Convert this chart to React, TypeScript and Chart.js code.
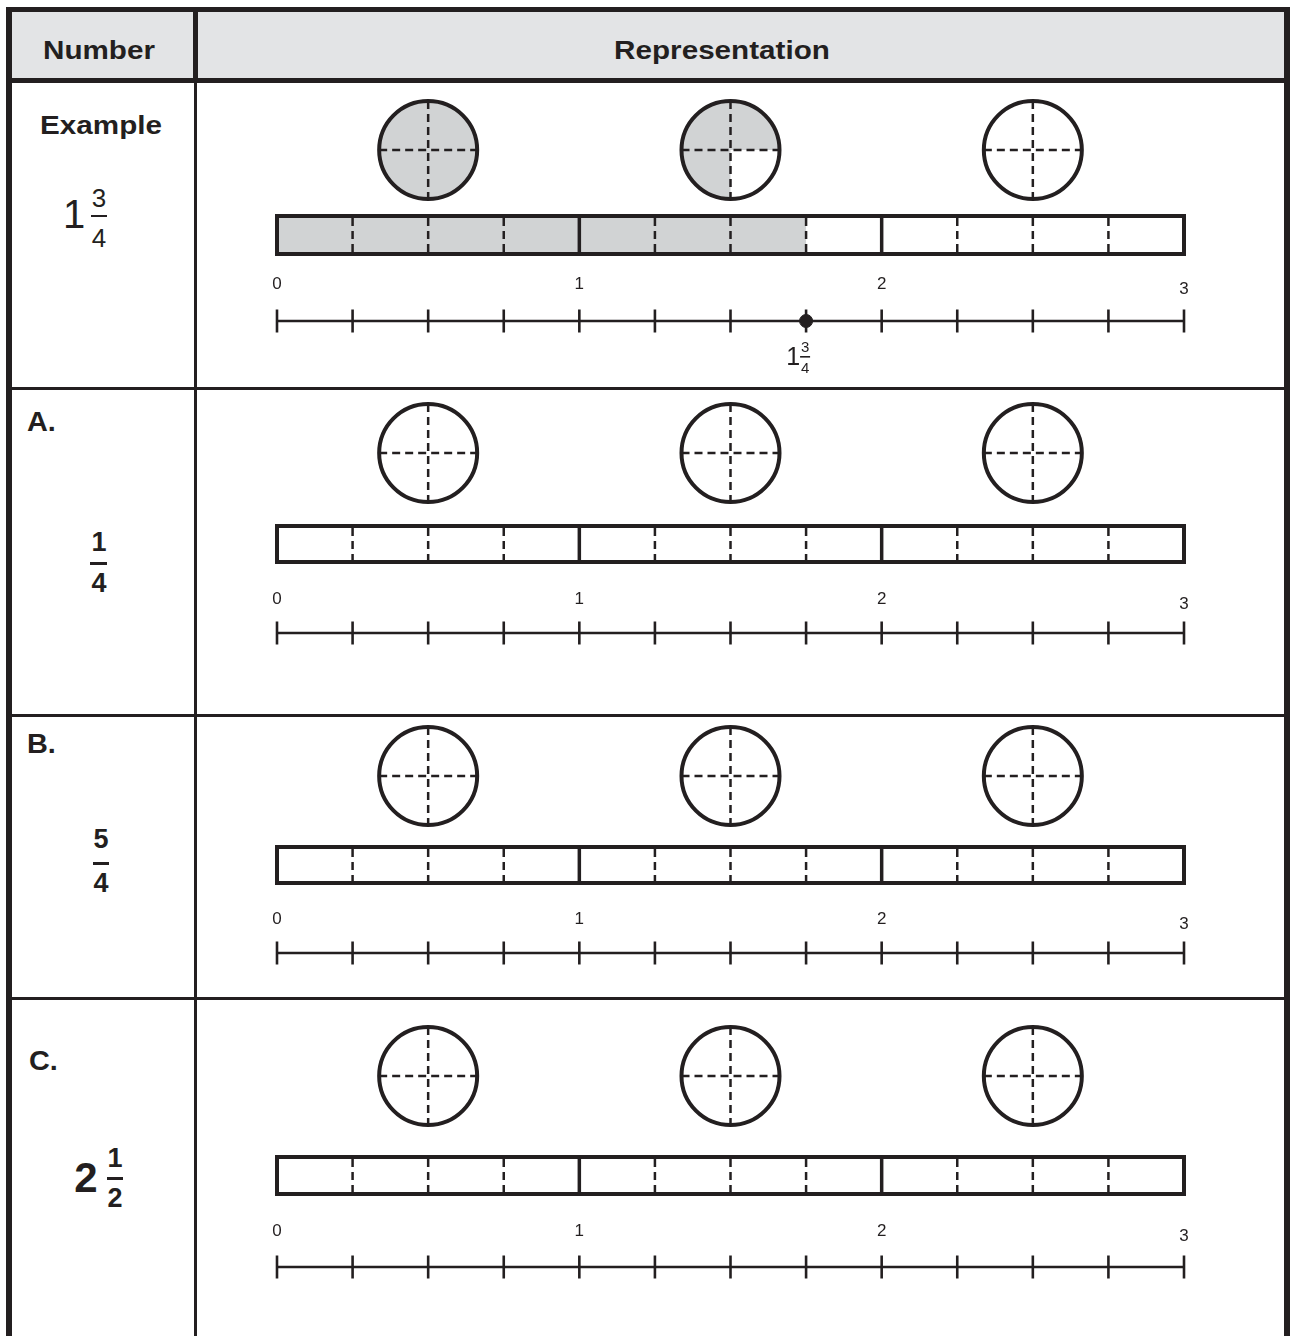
import React, { useEffect, useRef } from "react";
import { Chart, registerables } from "chart.js";

Chart.register(...registerables);

// ---------------- data ----------------
const rowLabels = ["Example", "A.", "B.", "C."];
const wholeParts: (number | null)[] = [1, null, null, 2];
const numerators = [3, 1, 5, 1];
const denominators = [4, 4, 4, 2];
const shadedAmounts = [1.75, 0, 0, 0];
const markedPoints: (number | null)[] = [1.75, null, null, null];
const axisMax = 3;
const axisLabels = ["0", "1", "2", "3"];
const lineTicks = [0, 0.25, 0.5, 0.75, 1, 1.25, 1.5, 1.75, 2, 2.25, 2.5, 2.75, 3];
const wholeDividers = [1, 2];
const circleCenters = [0.5, 1.5, 2.5];
const headerTitles = ["Number", "Representation"];

// ---------------- layout / style ----------------
const INK = "#231f20";
const SHADE = "#d1d3d4";
const HEADER_BG = "#e3e4e6";
const FONT = "'Liberation Sans', Arial, Helvetica, sans-serif";
const CANVAS_LEFT = 197;
const CANVAS_W = 1284 - 197;
const labelDy = [0, 0, 0, 5];

const ROWS = [
  { top: 83, bottom: 387, circleY: 150, barTop: 214, barBottom: 256, labelY: 289, lineY: 321 },
  { top: 390, bottom: 714, circleY: 453, barTop: 524, barBottom: 564, labelY: 604, lineY: 633 },
  { top: 717, bottom: 997, circleY: 776, barTop: 845, barBottom: 885, labelY: 924, lineY: 953 },
  { top: 1000, bottom: 1336, circleY: 1076, barTop: 1155, barBottom: 1196, labelY: 1236, lineY: 1267 },
];

function RowChart({ i }: { i: number }) {
  const ref = useRef<HTMLCanvasElement>(null);
  const L = ROWS[i];
  const h = L.bottom - L.top;
  useEffect(() => {
    if (!ref.current) return;
    const yOf = (py: number) => py - L.top;
    const shaded = shadedAmounts[i];

    const plugin = {
      id: "fractionModels" + i,
      beforeDatasetsDraw(chart: any) {
        const { ctx } = chart;
        const xs = chart.scales.x;
        const ys = chart.scales.y;
        const px = (v: number) => xs.getPixelForValue(v);
        const py = (v: number) => ys.getPixelForValue(v);
        ctx.save();
        // ---- bar model ----
        const x0 = px(0);
        const x3 = px(axisMax);
        const yt = py(yOf(L.barTop) + 2);
        const yb = py(yOf(L.barBottom) - 2);
        if (shaded > 0) {
          ctx.fillStyle = SHADE;
          ctx.fillRect(x0, yt, px(shaded) - x0, yb - yt);
        }
        ctx.strokeStyle = INK;
        ctx.lineWidth = 2.5;
        ctx.setLineDash([8, 5]);
        ctx.lineDashOffset = -2;
        lineTicks.forEach((t) => {
          if (Number.isInteger(t)) return;
          ctx.beginPath();
          ctx.moveTo(px(t), yt);
          ctx.lineTo(px(t), yb);
          ctx.stroke();
        });
        ctx.setLineDash([]);
        ctx.lineWidth = 3.5;
        wholeDividers.forEach((t) => {
          ctx.beginPath();
          ctx.moveTo(px(t), yt);
          ctx.lineTo(px(t), yb);
          ctx.stroke();
        });
        ctx.lineWidth = 4;
        ctx.strokeRect(x0, yt, x3 - x0, yb - yt);

        // ---- circle models ----
        const r = 49;
        const cy = py(yOf(L.circleY));
        circleCenters.forEach((c) => {
          const cx = px(c);
          const frac = Math.max(0, Math.min(1, shaded - Math.floor(c)));
          if (frac > 0) {
            ctx.fillStyle = SHADE;
            ctx.beginPath();
            if (frac >= 1) {
              ctx.arc(cx, cy, r, 0, Math.PI * 2);
            } else {
              ctx.moveTo(cx, cy);
              ctx.arc(cx, cy, r, 0, -frac * Math.PI * 2, true);
              ctx.closePath();
            }
            ctx.fill();
          }
          ctx.strokeStyle = INK;
          ctx.lineWidth = 2.5;
          ctx.setLineDash([8, 5]);
          ctx.lineDashOffset = 0;
          ctx.beginPath();
          ctx.moveTo(cx - r, cy);
          ctx.lineTo(cx + r, cy);
          ctx.stroke();
          ctx.beginPath();
          ctx.moveTo(cx, cy - r);
          ctx.lineTo(cx, cy + r);
          ctx.stroke();
          ctx.setLineDash([]);
          ctx.lineWidth = 4;
          ctx.beginPath();
          ctx.arc(cx, cy, r, 0, Math.PI * 2);
          ctx.stroke();
        });

        // ---- axis labels ----
        ctx.fillStyle = INK;
        ctx.font = `17px ${FONT}`;
        ctx.textAlign = "center";
        ctx.textBaseline = "alphabetic";
        axisLabels.forEach((lab, k) => {
          ctx.fillText(lab, px(k), py(yOf(L.labelY) + labelDy[k]));
        });
        ctx.restore();
      },
      afterDatasetsDraw(chart: any) {
        const m = markedPoints[i];
        if (m == null) return;
        const { ctx } = chart;
        const xm = chart.scales.x.getPixelForValue(m);
        const ym = chart.scales.y.getPixelForValue(yOf(L.lineY));
        ctx.save();
        ctx.fillStyle = INK;
        ctx.textAlign = "center";
        ctx.textBaseline = "alphabetic";
        const w = wholeParts[i];
        if (w != null) {
          ctx.font = `25px ${FONT}`;
          ctx.fillText(String(w), xm - 13, ym + 44);
        }
        ctx.font = `15px ${FONT}`;
        ctx.fillText(String(numerators[i]), xm - 1, ym + 31);
        ctx.fillRect(xm - 6, ym + 35, 10, 1.6);
        ctx.fillText(String(denominators[i]), xm - 1, ym + 52);
        ctx.restore();
      },
    };

    const datasets: any[] = [];
    const m = markedPoints[i];
    if (m != null) {
      datasets.push({
        label: "marked point",
        data: [{ x: m, y: yOf(L.lineY) }],
        showLine: false,
        pointStyle: "circle",
        pointRadius: 6.5,
        pointBackgroundColor: INK,
        pointBorderColor: INK,
        pointBorderWidth: 1,
        clip: false,
      });
    }
    datasets.push({
      label: "number line",
      data: lineTicks.map((t) => ({ x: t, y: yOf(L.lineY) })),
      showLine: true,
      borderColor: INK,
      borderWidth: 2.6,
      pointStyle: "line",
      rotation: 90,
      pointRadius: 11.5,
      pointBorderColor: INK,
      pointBackgroundColor: INK,
      pointBorderWidth: 2.6,
      clip: false,
    });

    const chart = new Chart(ref.current, {
      type: "scatter",
      data: { datasets },
      options: {
        responsive: false,
        maintainAspectRatio: false,
        animation: false,
        events: [],
        layout: { autoPadding: false, padding: { left: 80, right: 100, top: 0, bottom: 0 } },
        scales: {
          x: { type: "linear", min: 0, max: axisMax, display: false },
          y: { type: "linear", min: 0, max: h, reverse: true, display: false },
        },
        plugins: { legend: { display: false }, tooltip: { enabled: false } },
      } as any,
      plugins: [plugin],
    });
    return () => chart.destroy();
  }, [i]);
  return (
    <canvas
      ref={ref}
      width={CANVAS_W}
      height={h}
      style={{ position: "absolute", left: CANVAS_LEFT, top: L.top, width: CANVAS_W, height: h }}
    />
  );
}

function Txt({
  text, x, base, size, bold = false, sx = 1, align = "center",
}: { text: string; x: number; base: number; size: number; bold?: boolean; sx?: number; align?: "center" | "left" }) {
  const style: React.CSSProperties = {
    position: "absolute",
    top: base - 0.8465 * size,
    left: x,
    fontFamily: FONT,
    fontSize: size,
    lineHeight: `${size}px`,
    fontWeight: bold ? 700 : 400,
    color: INK,
    whiteSpace: "nowrap",
    transform: align === "center" ? `translateX(-50%) scaleX(${sx})` : `scaleX(${sx})`,
    transformOrigin: align === "center" ? "center" : "left",
  };
  return <div style={style}>{text}</div>;
}

function Rect({ x, y, w, h, c = INK }: { x: number; y: number; w: number; h: number; c?: string }) {
  return <div style={{ position: "absolute", left: x, top: y, width: w, height: h, background: c }} />;
}

export default function App() {
  return (
    <div
      style={{
        position: "absolute",
        left: 0,
        top: 0,
        width: 1290,
        height: 1336,
        background: "#fff",
        overflow: "hidden",
      }}
    >
      {/* header background */}
      <Rect x={12} y={12} w={1272} h={66} c={HEADER_BG} />
      {/* outer borders */}
      <Rect x={6} y={7} w={1284} h={5} />
      <Rect x={6} y={7} w={6} h={1329} />
      <Rect x={1284} y={7} w={6} h={1329} />
      <Rect x={6} y={78} w={1284} h={5} />
      {/* column divider */}
      <Rect x={193} y={7} w={5} h={76} />
      <Rect x={194} y={83} w={3} h={1253} />
      {/* row separators */}
      <Rect x={6} y={387} w={1284} h={3} />
      <Rect x={6} y={714} w={1284} h={3} />
      <Rect x={6} y={997} w={1284} h={3} />

      {ROWS.map((_, i) => (
        <RowChart key={i} i={i} />
      ))}

      {/* header text */}
      <Txt text={headerTitles[0]} x={98.5} base={59} size={26} bold sx={1.14} />
      <Txt text={headerTitles[1]} x={722} base={59} size={26} bold sx={1.14} />

      {/* Example row */}
      <Txt text={rowLabels[0]} x={101} base={134} size={26} bold sx={1.14} />
      <Txt text={String(wholeParts[0])} x={74} base={228} size={40} />
      <Txt text={String(numerators[0])} x={99} base={207} size={26} />
      <Rect x={91} y={215} w={16} h={2} />
      <Txt text={String(denominators[0])} x={99} base={247} size={26} />

      {/* Row A */}
      <Txt text={rowLabels[1]} x={27} base={432} size={28} bold sx={1.03} align="left" />
      <Txt text={String(numerators[1])} x={99} base={552} size={27} bold />
      <Rect x={90} y={562} w={17} h={3} />
      <Txt text={String(denominators[1])} x={99} base={593} size={27} bold />

      {/* Row B */}
      <Txt text={rowLabels[2]} x={27} base={754} size={28} bold sx={1.03} align="left" />
      <Txt text={String(numerators[2])} x={101} base={849} size={27} bold />
      <Rect x={93} y={862} w={16} h={3} />
      <Txt text={String(denominators[2])} x={101} base={893} size={27} bold />

      {/* Row C */}
      <Txt text={rowLabels[3]} x={29} base={1071} size={28} bold sx={1.03} align="left" />
      <Txt text={String(wholeParts[3])} x={86} base={1193} size={42} bold />
      <Txt text={String(numerators[3])} x={115} base={1168} size={27} bold />
      <Rect x={107} y={1177} w={16} h={3} />
      <Txt text={String(denominators[3])} x={115} base={1208} size={27} bold />
    </div>
  );
}
